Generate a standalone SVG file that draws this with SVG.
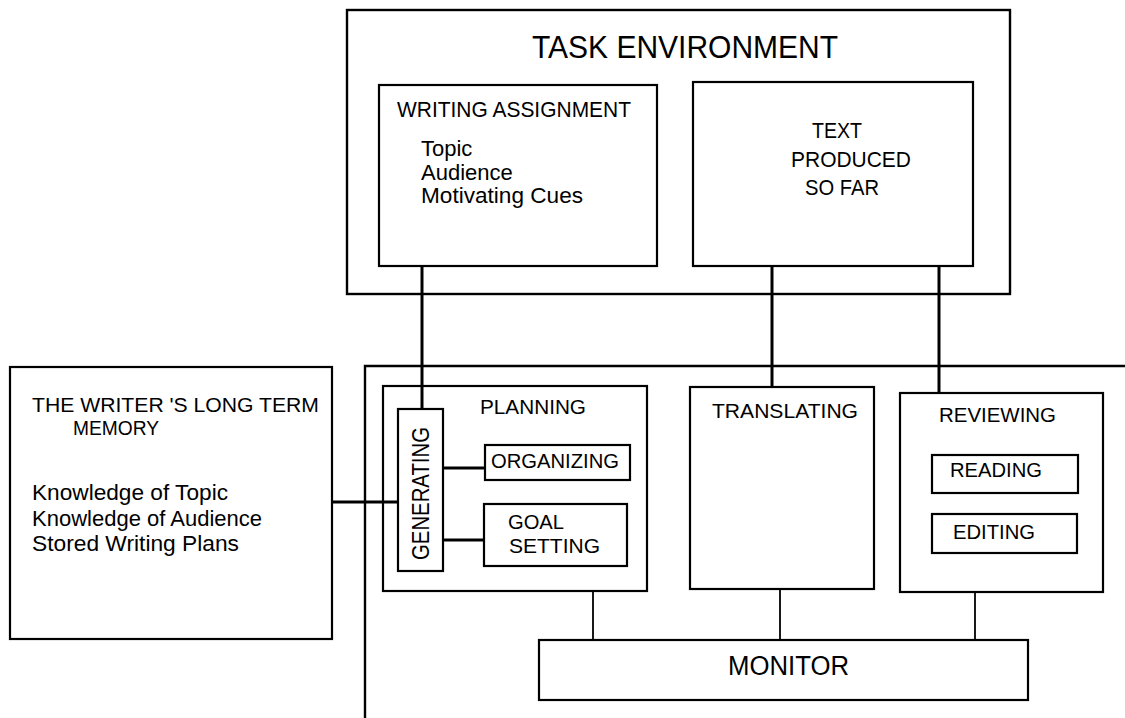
<svg xmlns="http://www.w3.org/2000/svg" width="1125" height="718" viewBox="0 0 1125 718">
  <style>
    .box { fill: none; stroke: #000; stroke-width: 2.2; }
    .frame { fill: none; stroke: #000; stroke-width: 2.4; }
    .link { fill: none; stroke: #000; stroke-width: 2.2; }
    .thick { stroke-width: 3; }
    .thin { stroke-width: 1.8; }
    text { font-family: "Liberation Sans", Arial, sans-serif; fill: #000; }
    .t22 { font-size: 22px; }
    .t21 { font-size: 21px; }
  </style>
  <rect width="1125" height="718" fill="#fff"/>

  <!-- Task environment -->
  <g id="task-environment">
    <rect class="frame" x="347" y="10" width="663" height="284"/>
    <text x="532" y="58" font-size="31" textLength="306" lengthAdjust="spacingAndGlyphs">TASK ENVIRONMENT</text>
  </g>

  <g id="writing-assignment">
    <rect class="box" x="379" y="85" width="278" height="181"/>
    <text class="t22" x="397" y="117" textLength="234" lengthAdjust="spacingAndGlyphs">WRITING ASSIGNMENT</text>
    <text class="t22" x="421" y="156">Topic</text>
    <text class="t22" x="421" y="180">Audience</text>
    <text class="t22" x="421" y="203" textLength="162" lengthAdjust="spacingAndGlyphs">Motivating Cues</text>
  </g>

  <g id="text-produced">
    <rect class="box" x="693" y="82" width="280" height="184"/>
    <text class="t22" x="812" y="138" textLength="50" lengthAdjust="spacingAndGlyphs">TEXT</text>
    <text class="t22" x="791" y="167" textLength="120" lengthAdjust="spacingAndGlyphs">PRODUCED</text>
    <text class="t22" x="805" y="195" textLength="74" lengthAdjust="spacingAndGlyphs">SO FAR</text>
  </g>

  <!-- Long term memory -->
  <g id="long-term-memory">
    <rect class="box" x="10" y="367" width="322" height="272"/>
    <text class="t21" x="32" y="412" textLength="287" lengthAdjust="spacingAndGlyphs">THE WRITER 'S LONG TERM</text>
    <text class="t21" x="73" y="435" textLength="86" lengthAdjust="spacingAndGlyphs">MEMORY</text>
    <text class="t22" x="32" y="500" textLength="196" lengthAdjust="spacingAndGlyphs">Knowledge of Topic</text>
    <text class="t22" x="32" y="526" textLength="230" lengthAdjust="spacingAndGlyphs">Knowledge of Audience</text>
    <text class="t22" x="32" y="551" textLength="207" lengthAdjust="spacingAndGlyphs">Stored Writing Plans</text>
  </g>

  <!-- Writing processes frame (open on the right and bottom) -->
  <g id="writing-processes">
    <path class="frame" d="M1125 366 H365 V718"/>
  </g>

  <g id="planning">
    <rect class="box" x="383" y="386" width="264" height="205"/>
    <text class="t21" x="480" y="414" textLength="106" lengthAdjust="spacingAndGlyphs">PLANNING</text>
  </g>

  <g id="generating">
    <rect class="box" x="398" y="409" width="45" height="162"/>
    <text font-size="24" transform="translate(429 560) rotate(-90)" textLength="133" lengthAdjust="spacingAndGlyphs">GENERATING</text>
  </g>

  <g id="organizing">
    <rect class="box" x="485" y="445" width="145" height="35"/>
    <text class="t21" x="491" y="468" textLength="128" lengthAdjust="spacingAndGlyphs">ORGANIZING</text>
  </g>

  <g id="goal-setting">
    <rect class="box" x="484" y="504" width="143" height="62"/>
    <text class="t21" x="508" y="529" textLength="56" lengthAdjust="spacingAndGlyphs">GOAL</text>
    <text class="t21" x="509" y="553" textLength="91" lengthAdjust="spacingAndGlyphs">SETTING</text>
  </g>

  <g id="translating">
    <rect class="box" x="690" y="387" width="184" height="202"/>
    <text class="t21" x="712" y="418" textLength="146" lengthAdjust="spacingAndGlyphs">TRANSLATING</text>
  </g>

  <g id="reviewing">
    <rect class="box" x="900" y="393" width="203" height="199"/>
    <text class="t21" x="939" y="422" textLength="117" lengthAdjust="spacingAndGlyphs">REVIEWING</text>
  </g>

  <g id="reading">
    <rect class="box" x="932" y="455" width="146" height="38"/>
    <text class="t21" x="950" y="477" textLength="92" lengthAdjust="spacingAndGlyphs">READING</text>
  </g>

  <g id="editing">
    <rect class="box" x="932" y="514" width="145" height="39"/>
    <text class="t21" x="953" y="539" textLength="82" lengthAdjust="spacingAndGlyphs">EDITING</text>
  </g>

  <g id="monitor">
    <rect class="box" x="539" y="640" width="489" height="60"/>
    <text x="728" y="675" font-size="27" textLength="121" lengthAdjust="spacingAndGlyphs">MONITOR</text>
  </g>

  <!-- Connectors -->
  <g id="connectors">
    <line class="link thick" x1="422" y1="266" x2="422" y2="409"/>
    <line class="link thick" x1="772" y1="266" x2="772" y2="387"/>
    <line class="link thick" x1="939" y1="266" x2="939" y2="393"/>
    <line class="link thick" x1="332" y1="502" x2="398" y2="502"/>
    <line class="link thick" x1="443" y1="468" x2="485" y2="468"/>
    <line class="link thick" x1="443" y1="540" x2="484" y2="540"/>
    <line class="link thin" x1="593" y1="591" x2="593" y2="640"/>
    <line class="link thin" x1="780" y1="589" x2="780" y2="640"/>
    <line class="link thin" x1="975" y1="592" x2="975" y2="640"/>
  </g>
</svg>
